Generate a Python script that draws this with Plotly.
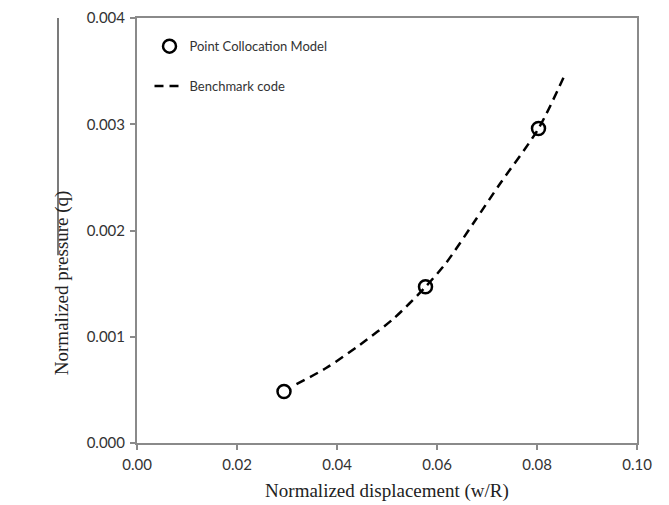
import plotly.graph_objects as go

# Point Collocation Model results
pcm_x = [0.0294, 0.0577, 0.0803]
pcm_y = [0.000485, 0.00147, 0.00296]

# Benchmark code curve
bench_x = [0.0319, 0.0379, 0.0446, 0.0513, 0.0577, 0.0619, 0.0673, 0.0726, 0.0803, 0.0856]
bench_y = [0.000554, 0.000708, 0.000925, 0.00117, 0.00147, 0.00170, 0.00207, 0.00244, 0.00296, 0.00347]

x_ticks = [0.00, 0.02, 0.04, 0.06, 0.08, 0.10]
y_ticks = [0.000, 0.001, 0.002, 0.003, 0.004]

axis_grey = "#8a8a8a"
tick_font = dict(family="Lato, 'Open Sans', sans-serif", size=15, color="#333333")
serif = "Liberation Serif, Times New Roman, serif"

fig = go.Figure()
fig.add_trace(go.Scatter(
    x=pcm_x, y=pcm_y, mode="markers", name="Point Collocation Model",
    marker=dict(symbol="circle-open", size=13, color="black", line=dict(width=2.5, color="black")),
    legendgroup="a",
))
fig.add_trace(go.Scatter(
    x=bench_x, y=bench_y, mode="lines", name="Benchmark code",
    line=dict(color="black", width=2.5, dash="9px,6px", shape="spline", smoothing=0.8),
    legendgroup="b",
))

# page has an 8px body margin, so the figure is sized/offset to compensate
fig.update_layout(
    width=661, height=497,
    margin=dict(l=129, r=32, t=10, b=62, autoexpand=False),
    paper_bgcolor="white", plot_bgcolor="white",
    showlegend=True,
    legend=dict(x=0.025, y=0.969, xanchor="left", yanchor="top",
                font=dict(family="Lato, 'Open Sans', sans-serif", size=13, color="#333333"),
                bgcolor="rgba(0,0,0,0)", tracegroupgap=20, traceorder="grouped",
                itemwidth=30),
    xaxis=dict(range=[0, 0.1], tickvals=x_ticks, tickformat=".2f", automargin=False,
               showgrid=False, zeroline=False, showline=True, mirror=True,
               linecolor=axis_grey, linewidth=2, ticks="outside", ticklen=5,
               tickcolor=axis_grey, tickwidth=1.5, tickfont=tick_font,
               ticklabelstandoff=2, ticklabeloverflow="allow",
               title=dict(text="Normalized displacement (w/R)",
                          font=dict(family=serif, size=19, color="#222222"),
                          standoff=12)),
    yaxis=dict(range=[0, 0.004], tickvals=y_ticks, tickformat=".3f", automargin=False,
               showgrid=False, zeroline=False, showline=True, mirror=True,
               linecolor=axis_grey, linewidth=2, ticks="outside", ticklen=5,
               tickcolor=axis_grey, tickwidth=1.5, tickfont=tick_font,
               ticklabelstandoff=2, ticklabeloverflow="allow"),
)

fig.add_annotation(
    text="Normalized pressure (q)", textangle=-90,
    xref="paper", yref="paper", x=-0.15, y=0.376,
    xanchor="center", yanchor="middle", showarrow=False,
    font=dict(family=serif, size=19, color="#222222"),
)
fig.add_shape(type="line", xref="paper", yref="paper",
              x0=-0.158, x1=-0.158, y0=0.442, y1=1.0,
              line=dict(color="#222222", width=1.2))

fig.write_html("out.html")
